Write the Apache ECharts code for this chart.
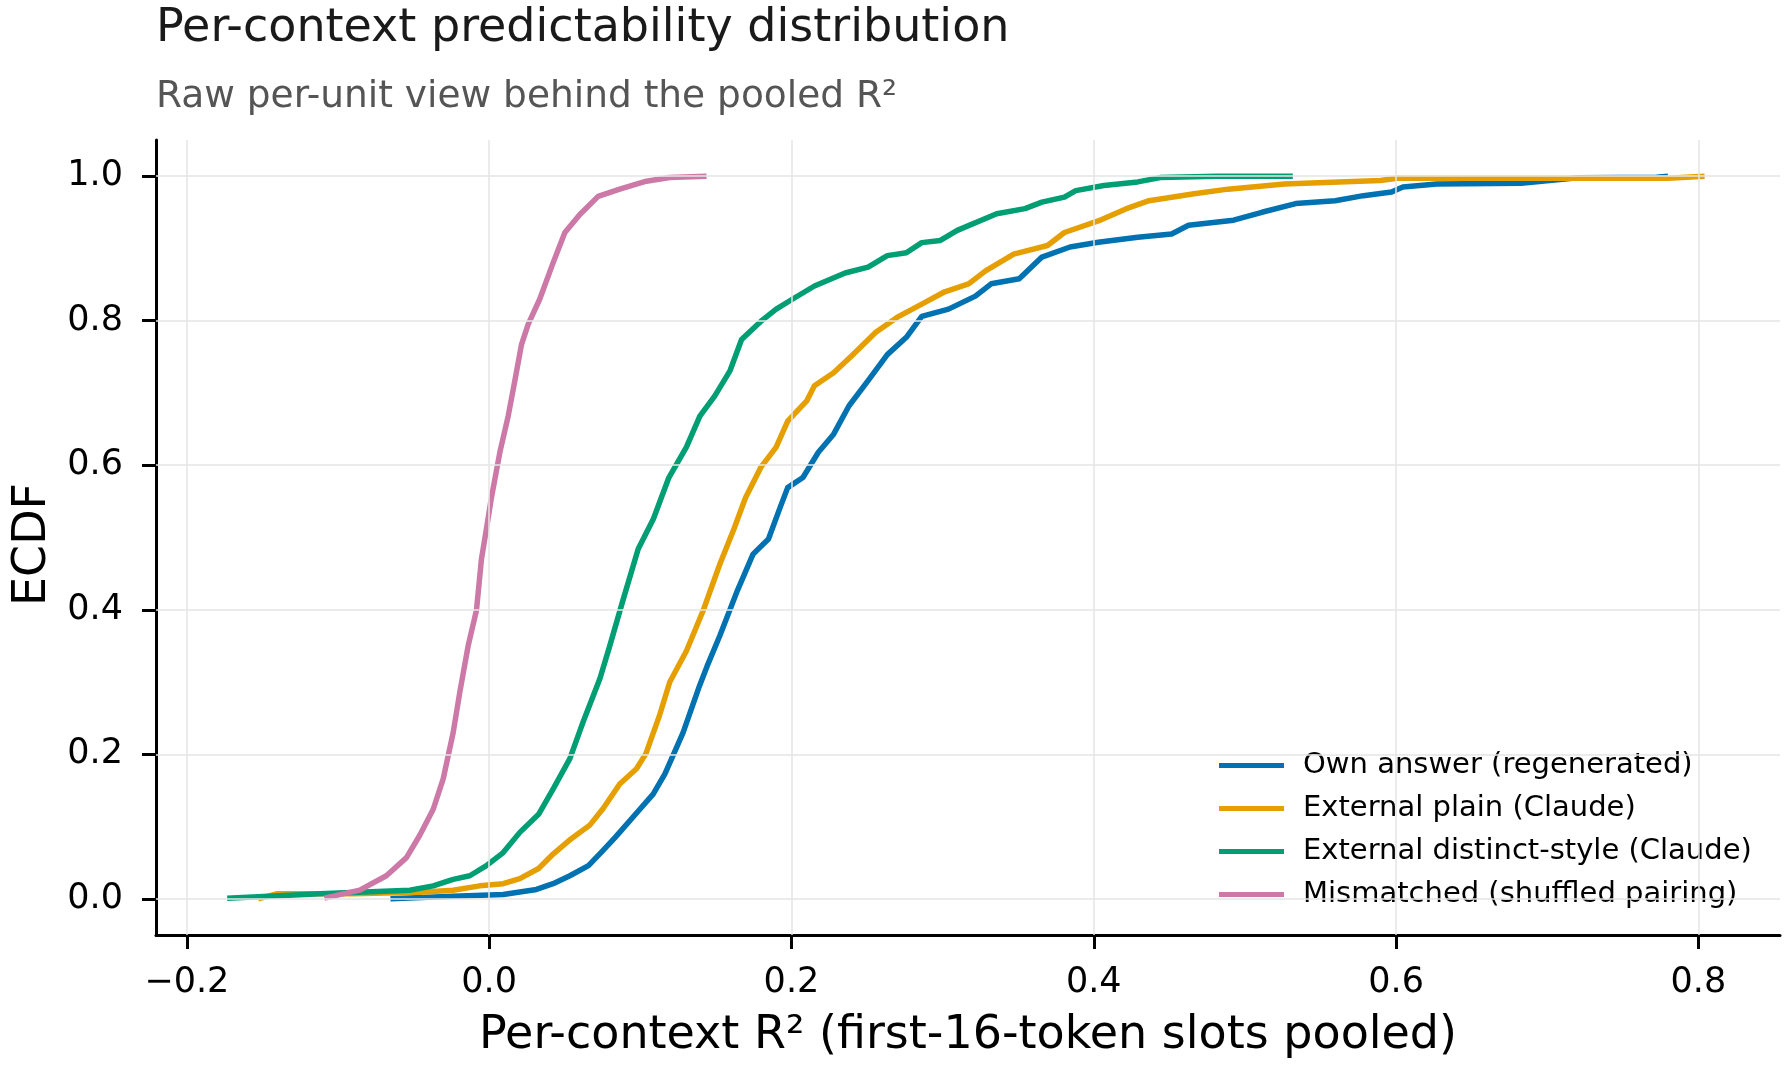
<!DOCTYPE html>
<html>
<head>
<meta charset="utf-8">
<script src="https://cdn.jsdelivr.net/npm/echarts@6/dist/echarts.min.js"></script>
<style>
  html, body { margin: 0; padding: 0; background: #fff; }
  #chart { width: 1786px; height: 1066px; }
</style>
</head>
<body>
<div id="chart"></div>
<script>
// ECDF curves, [R2, cumulative share]
const ownAnswer = [
  [-0.0653, 0.0], [-0.0238, 0.0035], [0.0093, 0.006], [0.0313, 0.013], [0.0423, 0.021],
  [0.0534, 0.032], [0.0657, 0.046], [0.0754, 0.067], [0.0834, 0.085], [0.0997, 0.124],
  [0.1085, 0.145], [0.1163, 0.173], [0.1283, 0.23], [0.1392, 0.295], [0.1442, 0.322],
  [0.1526, 0.364], [0.1645, 0.428], [0.1746, 0.477], [0.1848, 0.498], [0.1924, 0.541],
  [0.1975, 0.569], [0.2076, 0.583], [0.2178, 0.618], [0.2279, 0.643], [0.238, 0.682],
  [0.2507, 0.717], [0.2634, 0.753], [0.276, 0.777], [0.2862, 0.806], [0.3039, 0.816],
  [0.3217, 0.834], [0.3321, 0.851], [0.3507, 0.858], [0.3657, 0.888], [0.3843, 0.902],
  [0.403, 0.9085], [0.4291, 0.9155], [0.4515, 0.92], [0.4627, 0.932], [0.4925, 0.939],
  [0.5112, 0.95], [0.5336, 0.962], [0.5597, 0.966], [0.5784, 0.973], [0.597, 0.978],
  [0.6045, 0.985], [0.6269, 0.989], [0.6828, 0.99], [0.7201, 0.9977], [0.7724, 0.9986],
  [0.7799, 1.0]
];
const externalPlain = [
  [-0.1528, 0.0], [-0.1407, 0.007], [-0.09, 0.007], [-0.0459, 0.009], [-0.0238, 0.012],
  [-0.0062, 0.018], [0.0093, 0.021], [0.0203, 0.028], [0.0327, 0.042], [0.0423, 0.062],
  [0.053, 0.081], [0.0666, 0.102], [0.0754, 0.125], [0.0864, 0.159], [0.0975, 0.18],
  [0.1037, 0.201], [0.1129, 0.255], [0.1195, 0.3], [0.1305, 0.343], [0.1416, 0.399],
  [0.1526, 0.463], [0.162, 0.512], [0.1696, 0.555], [0.1797, 0.597], [0.1899, 0.625],
  [0.1975, 0.661], [0.2101, 0.689], [0.2152, 0.71], [0.2279, 0.728], [0.2406, 0.753],
  [0.2558, 0.784], [0.271, 0.806], [0.2862, 0.823], [0.3014, 0.84], [0.3172, 0.851],
  [0.3284, 0.869], [0.347, 0.892], [0.3694, 0.904], [0.3806, 0.922], [0.403, 0.938],
  [0.4216, 0.955], [0.4366, 0.966], [0.4664, 0.9755], [0.4888, 0.982], [0.5261, 0.989],
  [0.5896, 0.994], [0.6007, 0.997], [0.7799, 0.997], [0.8041, 1.0]
];
const externalDistinct = [
  [-0.1733, 0.001], [-0.112, 0.007], [-0.0525, 0.012], [-0.037, 0.018], [-0.0238, 0.027],
  [-0.0128, 0.032], [-0.0018, 0.046], [0.0093, 0.064], [0.0203, 0.092], [0.0327, 0.117],
  [0.0423, 0.152], [0.0534, 0.194], [0.0622, 0.245], [0.0733, 0.305], [0.0798, 0.35],
  [0.0885, 0.413], [0.0986, 0.484], [0.1087, 0.526], [0.1189, 0.583], [0.1305, 0.625],
  [0.1394, 0.668], [0.1493, 0.696], [0.1594, 0.731], [0.167, 0.774], [0.1797, 0.799],
  [0.1899, 0.816], [0.2, 0.829], [0.2152, 0.848], [0.2355, 0.866], [0.2507, 0.874],
  [0.2634, 0.89], [0.276, 0.894], [0.2862, 0.908], [0.2985, 0.911], [0.3097, 0.925],
  [0.3358, 0.948], [0.3545, 0.955], [0.3657, 0.964], [0.3806, 0.971], [0.3881, 0.98],
  [0.4067, 0.987], [0.4291, 0.992], [0.444, 0.998], [0.4813, 1.0], [0.5317, 1.0]
];
const mismatched = [
  [-0.109, 0.001], [-0.0856, 0.012], [-0.068, 0.032], [-0.0547, 0.057], [-0.0459, 0.088],
  [-0.037, 0.124], [-0.0304, 0.166], [-0.0238, 0.23], [-0.0194, 0.286], [-0.0139, 0.35],
  [-0.0084, 0.399], [-0.0051, 0.47], [-0.0018, 0.512], [0.0015, 0.555], [0.0071, 0.618],
  [0.0126, 0.668], [0.017, 0.717], [0.0214, 0.767], [0.0258, 0.795], [0.0335, 0.83],
  [0.0423, 0.88], [0.0501, 0.922], [0.06, 0.947], [0.0721, 0.972], [0.0864, 0.982],
  [0.104, 0.993], [0.1195, 0.998], [0.1438, 1.0]
];

const seriesNames = [
  'Own answer (regenerated)',
  'External plain (Claude)',
  'External distinct-style (Claude)',
  'Mismatched (shuffled pairing)'
];
const seriesColors = ['#0072B2', '#E69F00', '#009E73', '#CC79A7'];
const xTicks = [-0.2, 0.0, 0.2, 0.4, 0.6, 0.8];
const yTicks = [0.0, 0.2, 0.4, 0.6, 0.8, 1.0];

const FONT = 'DejaVu Sans';
const chart = echarts.init(document.getElementById('chart'), null, { renderer: 'canvas' });

const fmt = (v) => (v < 0 ? '\u2212' : '') + Math.abs(v).toFixed(1);

const curves = [ownAnswer, externalPlain, externalDistinct, mismatched].map((data, i) => ({
  name: seriesNames[i],
  type: 'line',
  data: data,
  showSymbol: false,
  symbol: 'none',
  z: 3,
  lineStyle: { color: seriesColors[i], width: 5.5, join: 'round', cap: 'butt' },
  itemStyle: { color: seriesColors[i] },
  animation: false
}));

// grid lines drawn at the tick positions
const gridSeries = {
  type: 'line',
  data: [],
  z: 1,
  silent: true,
  markLine: {
    silent: true,
    symbol: 'none',
    animation: false,
    label: { show: false },
    lineStyle: { color: '#e5e5e5', width: 1.5, type: 'solid' },
    data: xTicks.map(v => ({ xAxis: v })).concat(yTicks.map(v => ({ yAxis: v })))
  }
};

chart.setOption({
  backgroundColor: '#ffffff',
  animation: false,
  textStyle: { fontFamily: FONT },
  title: [
    {
      text: 'Per-context predictability distribution',
      left: 151, top: 1,
      textStyle: { fontFamily: FONT, fontSize: 46, fontWeight: 'normal', color: '#1a1a1a' }
    },
    {
      text: 'Raw per-unit view behind the pooled R\u00b2',
      left: 151, top: 73,
      textStyle: { fontFamily: FONT, fontSize: 37.5, fontWeight: 'normal', color: '#555555' }
    }
  ],
  legend: {
    orient: 'vertical',
    left: 1214,
    top: 744,
    itemWidth: 65,
    itemHeight: 5,
    itemGap: 10,
    icon: 'rect',
    data: seriesNames,
    textStyle: { fontFamily: FONT, fontSize: 29, color: '#000', lineHeight: 33, padding: [0, 0, 0, 14] }
  },
  grid: { left: 156, right: 6, top: 140, bottom: 131, containLabel: false },
  xAxis: {
    type: 'value',
    min: -0.2204,
    max: 0.854,
    name: 'Per-context R\u00b2 (first-16-token slots pooled)',
    nameLocation: 'middle',
    nameGap: 78,
    nameMoveOverlap: false,
    nameTextStyle: { fontFamily: FONT, fontSize: 46, color: '#000' },
    axisLine: { show: true, onZero: false, lineStyle: { color: '#000', width: 3 } },
    axisTick: { show: true, inside: false, length: 14, customValues: xTicks, lineStyle: { color: '#000', width: 3 } },
    axisLabel: { customValues: xTicks, formatter: fmt, fontFamily: FONT, fontSize: 35, color: '#000', margin: 30 },
    splitLine: { show: false }
  },
  yAxis: {
    type: 'value',
    min: -0.05,
    max: 1.05,
    name: 'ECDF',
    nameLocation: 'middle',
    nameGap: 100,
    nameRotate: 90,
    nameTextStyle: { fontFamily: FONT, fontSize: 46, color: '#000', padding: [0, 14, 0, 0] },
    axisLine: { show: true, onZero: false, lineStyle: { color: '#000', width: 3 } },
    axisTick: { show: true, inside: false, length: 14, customValues: yTicks, lineStyle: { color: '#000', width: 3 } },
    axisLabel: { customValues: yTicks, formatter: fmt, fontFamily: FONT, fontSize: 35, color: '#000', margin: 33 },
    splitLine: { show: false }
  },
  series: [gridSeries].concat(curves)
});
</script>
</body>
</html>
